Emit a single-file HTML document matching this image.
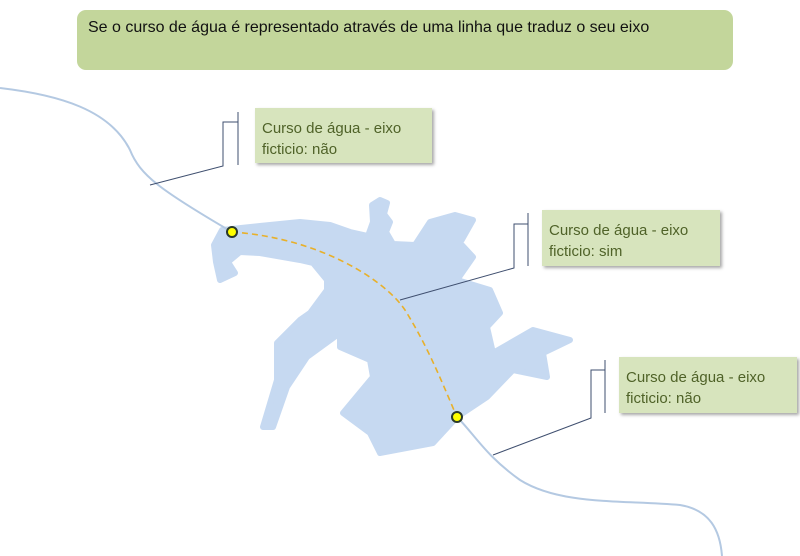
<!DOCTYPE html>
<html><head><meta charset="utf-8"><style>
html,body{margin:0;padding:0;background:#fff;}
body{width:800px;height:556px;position:relative;overflow:hidden;font-family:"Liberation Sans",sans-serif;}
.title{position:absolute;left:77px;top:10px;width:656px;height:60px;background:#c3d69b;border-radius:9px;box-sizing:border-box;padding:9px 0 0 11px;font-size:16px;color:#111;}
.box{position:absolute;background:#d7e4bd;box-shadow:2px 2px 3px rgba(0,0,0,0.35);box-sizing:border-box;padding:10px 0 0 7px;font-size:15px;line-height:21px;color:#4f6228;}
svg{position:absolute;left:0;top:0;}
</style></head><body>
<svg width="800" height="556">
<path fill="#c6d9f1" stroke="#c6d9f1" stroke-width="6" stroke-linejoin="round" d="M222,230 L260,226 300,222 330,225 350,232 368,236 373,222 372,205 380,200 387,203 384,214 390,222 386,232 393,244 415,245 430,222 455,215 473,220 460,243 473,257 457,280 490,290 500,313 487,327 493,353 533,330 570,340 543,353 547,377 513,370 487,397 457,417 433,443 380,453 370,433 343,413 373,377 370,360 340,347 340,333 307,357 287,387 273,427 263,427 277,380 277,343 300,320 310,313 327,290 327,280 313,263 300,260 260,253 240,252 228,262 235,273 220,280 216,262 214,245 Z"/>
<path fill="none" stroke="#b4c9e2" stroke-width="2" d="M0,88 C60,95 110,110 130,150 C140,175 160,190 232,232"/>
<path fill="none" stroke="#b4c9e2" stroke-width="2" d="M457,417 C475,435 485,455 520,480 C560,505 620,500 680,505 C710,510 720,530 722,556"/>
<path fill="none" stroke="#e8b02a" stroke-width="1.6" stroke-dasharray="6,4" d="M232,232 C320,238 385,280 405,310 C430,350 445,390 457,417"/>
<circle cx="232" cy="232" r="5" fill="#ffff00" stroke="#2b3a2b" stroke-width="2"/>
<circle cx="457" cy="417" r="5" fill="#ffff00" stroke="#2b3a2b" stroke-width="2"/>
<g fill="none" stroke="#3f4f6f" stroke-width="1">
<path d="M238,112 V165"/><path d="M150,185 L223,166 V122 H238"/>
<path d="M528,213 V266"/><path d="M400,300 L514,268 V224 H528"/>
<path d="M605,360 V413"/><path d="M493,455 L591,418 V370 H605"/>
</g>
</svg>
<div class="title">Se o curso de água é representado através de uma linha que traduz o seu eixo</div>
<div class="box" style="left:255px;top:108px;width:177px;height:55px;">Curso de água - eixo<br>ficticio: não</div>
<div class="box" style="left:542px;top:210px;width:178px;height:56px;">Curso de água - eixo<br>ficticio: sim</div>
<div class="box" style="left:619px;top:357px;width:178px;height:56px;">Curso de água - eixo<br>ficticio: não</div>
</body></html>
